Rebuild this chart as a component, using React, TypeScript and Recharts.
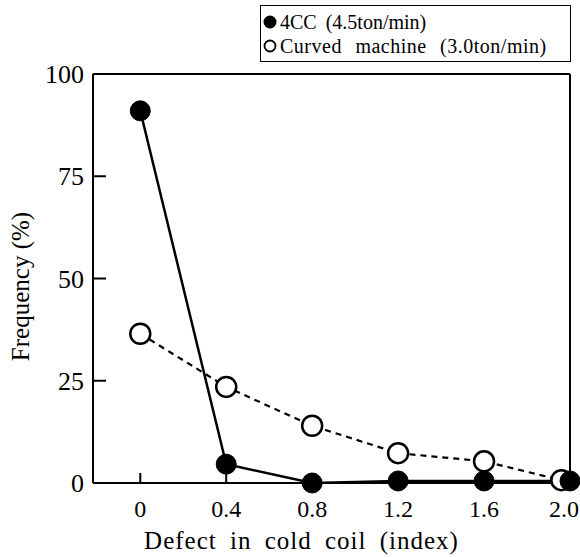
import React from "react";
import {
  LineChart,
  Line,
  XAxis,
  YAxis,
  ReferenceLine,
  Legend,
  Label,
} from "recharts";

// ---- data ----
const ccX = [0, 0.4, 0.8, 1.2, 1.6, 2.0];
const ccY = [91, 4.6, 0, 0.5, 0.5, 0.5];
const curvedX = [0, 0.4, 0.8, 1.2, 1.6, 1.96];
const curvedY = [36.5, 23.5, 14, 7.3, 5.3, 0.7];
const xTicks = [0, 0.4, 0.8, 1.2, 1.6, 2.0];
const yTicks = [0, 25, 50, 75, 100];
const seriesNames = ["4CC (4.5ton/min)", "Curved machine (3.0ton/min)"];
const xTitle = "Defect in cold coil (index)";
const yTitle = "Frequency (%)";

const ccData = ccX.map((x, i) => ({ x, y: ccY[i] }));
const curvedData = curvedX.map((x, i) => ({ x, y: curvedY[i] }));

const FONT = "'Liberation Serif', 'Times New Roman', serif";

const fmtX = (v: number) => (v === 0 ? "0" : v.toFixed(1));

const XTick = (props: any) => {
  const { x, y, payload } = props;
  const isLast = payload.value === xTicks[xTicks.length - 1];
  return (
    <text
      x={isLast ? Math.min(x + 17, 579) : x}
      y={y}
      dy="0.71em"
      textAnchor={isLast ? "end" : "middle"}
      fontSize={24}
      fontFamily={FONT}
      fill="#000"
    >
      {fmtX(payload.value)}
    </text>
  );
};

const LegendBox = () => (
  <div
    style={{
      border: "1.5px solid #000",
      boxSizing: "border-box",
      width: 311,
      height: 57,
      padding: "4px 0 0 1px",
      fontFamily: FONT,
      fontSize: 20,
      color: "#000",
      lineHeight: "24px",
      background: "#fff",
    }}
  >
    <div style={{ display: "flex", alignItems: "center" }}>
      <svg width={16} height={16} style={{ marginRight: 2 }}>
        <circle cx={8} cy={8} r={6.5} fill="#000" />
      </svg>
      <span style={{ wordSpacing: 4 }}>{seriesNames[0]}</span>
    </div>
    <div style={{ display: "flex", alignItems: "center" }}>
      <svg width={16} height={16} style={{ marginRight: 2 }}>
        <circle cx={8} cy={8} r={5.5} fill="#fff" stroke="#000" strokeWidth={1.8} />
      </svg>
      <span style={{ wordSpacing: 8, letterSpacing: 0.5 }}>{seriesNames[1]}</span>
    </div>
  </div>
);

export default function App() {
  return (
    <div style={{ position: "absolute", left: 0, top: 0, background: "#fff" }}>
      <LineChart
        width={580}
        height={557}
        margin={{ top: 74, right: 10, bottom: 34, left: 13 }}
        style={{ fontFamily: FONT }}
      >
        <XAxis
          type="number"
          dataKey="x"
          domain={[-0.22, 2.0]}
          ticks={xTicks}
          interval={0}
          height={40}
          stroke="#000"
          strokeWidth={2}
          tickSize={-10}
          tickMargin={27}
          tick={<XTick />}
          tickLine={{ stroke: "#000", strokeWidth: 2 }}
        >
          <Label
            content={({ viewBox }: any) => (
              <text
                x={viewBox.x + viewBox.width / 2 - 30}
                y={viewBox.y + viewBox.height + 26}
                textAnchor="middle"
                fontSize={25}
                fontFamily={FONT}
                fill="#000"
                style={{ letterSpacing: 1, wordSpacing: 6 }}
              >
                {xTitle}
              </text>
            )}
          />
        </XAxis>
        <YAxis
          type="number"
          domain={[0, 100]}
          ticks={yTicks}
          interval={0}
          width={80}
          stroke="#000"
          strokeWidth={2}
          tickSize={-13}
          tickMargin={22}
          tick={{ fill: "#000", fontSize: 26, fontFamily: FONT }}
          tickLine={{ stroke: "#000", strokeWidth: 2 }}
        >
          <Label
            content={({ viewBox }: any) => {
              const cx = 20;
              const cy = viewBox.y + viewBox.height / 2 + 8;
              return (
                <text
                  x={cx}
                  y={cy}
                  transform={`rotate(-90 ${cx} ${cy})`}
                  textAnchor="middle"
                  dominantBaseline="central"
                  fontSize={25}
                  fontFamily={FONT}
                  fill="#000"
                >
                  {yTitle}
                </text>
              );
            }}
          />
        </YAxis>
        <ReferenceLine y={100} stroke="#000" strokeWidth={2} />
        <ReferenceLine x={2.0} stroke="#000" strokeWidth={2} />
        <Line
          data={curvedData}
          dataKey="y"
          name={seriesNames[1]}
          stroke="#000"
          strokeWidth={2.2}
          strokeDasharray="6 5"
          dot={{ r: 10, fill: "#fff", stroke: "#000", strokeWidth: 2.5, strokeDasharray: "0" }}
          isAnimationActive={false}
        />
        <Line
          data={ccData}
          dataKey="y"
          name={seriesNames[0]}
          stroke="#000"
          strokeWidth={2.5}
          dot={{ r: 10, fill: "#000", stroke: "#000", strokeWidth: 1 }}
          isAnimationActive={false}
        />
        <Legend
          layout="vertical"
          align="center"
          verticalAlign="middle"
          wrapperStyle={{ left: 260, top: 5, width: 311, height: 57 }}
          content={() => <LegendBox />}
        />
      </LineChart>
    </div>
  );
}
